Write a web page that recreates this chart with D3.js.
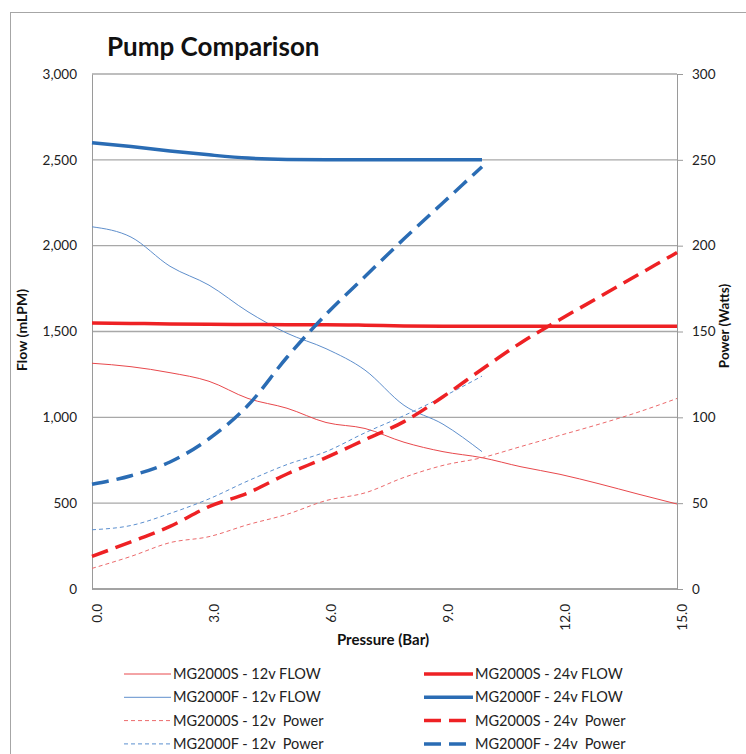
<!DOCTYPE html>
<html>
<head>
<meta charset="utf-8">
<script src="https://cdn.jsdelivr.net/npm/d3@7"></script>
<style>
  body { margin: 0; background: #fff; }
  svg { font-family: Lato, "Open Sans", sans-serif; }
  text { white-space: pre; }
</style>
</head>
<body>
<svg id="chart" width="746" height="754"></svg>
<script>
// pressure steps (bar)
var pressure = [0, 1, 2, 3, 4, 5, 6, 7, 8, 9, 10, 11, 12, 13, 14, 15];

// flow, mLPM (left axis)
var s12Flow = [1315, 1295, 1260, 1210, 1110, 1053, 970, 935, 855, 800, 765, 712, 668, 613, 553, 495];
var f12Flow = [2110, 2050, 1880, 1770, 1615, 1490, 1400, 1275, 1070, 960, 800];
var s24Flow = [1550, 1547, 1544, 1542, 1541, 1540, 1540, 1537, 1532, 1530, 1530, 1530, 1530, 1530, 1530, 1530];
var f24Flow = [2600, 2577, 2552, 2529, 2510, 2502, 2500, 2500, 2500, 2500, 2500];

// power, watts (right axis)
var s12Pow = [12, 19, 27, 30.5, 37.5, 43.5, 51.5, 56, 65, 72, 76.5, 83, 89.5, 96, 103, 111];
var f12Pow = [34.5, 37, 44, 52.5, 63, 72.5, 80, 91, 101, 112, 124];
var s24Pow = [19, 27.5, 36.5, 48, 56, 67, 76.5, 87, 97.5, 112, 128, 143.5, 157, 170, 183, 196];
var f24Pow = [61, 66, 74, 87.5, 107, 135, 160, 182, 204, 225, 246];

var flowTicks = [0, 500, 1000, 1500, 2000, 2500, 3000];
var powTicks = [0, 50, 100, 150, 200, 250, 300];
var xTicks = [0, 3, 6, 9, 12, 15];

var red = "#ee2124", blue = "#2a6cb4";
var series = [
  {name: "MG2000S - 12v FLOW", vals: s12Flow, axis: "flow", color: "#e8484c", w: 1, dash: null},
  {name: "MG2000F - 12v FLOW", vals: f12Flow, axis: "flow", color: "#5f8fcc", w: 1, dash: null},
  {name: "MG2000S - 12v  Power", vals: s12Pow, axis: "pow", color: "#ec6a6c", w: 1, dash: "4,3"},
  {name: "MG2000F - 12v  Power", vals: f12Pow, axis: "pow", color: "#5b8fcf", w: 1, dash: "4,3"},
  {name: "MG2000S - 24v FLOW", vals: s24Flow, axis: "flow", color: red, w: 3.5, dash: null},
  {name: "MG2000F - 24v FLOW", vals: f24Flow, axis: "flow", color: blue, w: 3.5, dash: null},
  {name: "MG2000S - 24v  Power", vals: s24Pow, axis: "pow", color: red, w: 3.5, dash: "17,8"},
  {name: "MG2000F - 24v  Power", vals: f24Pow, axis: "pow", color: blue, w: 3.5, dash: "17,8"}
];

var svg = d3.select("#chart");
var plotL = 92, plotR = 677, plotT = 74, plotB = 589;

var x = d3.scaleLinear().domain([0, 15]).range([plotL, plotR]);
var yFlow = d3.scaleLinear().domain([0, 3000]).range([plotB, plotT]);
var yPow = d3.scaleLinear().domain([0, 300]).range([plotB, plotT]);

// chart border
svg.append("rect").attr("x", 10.5).attr("y", 12.5).attr("width", 760).attr("height", 760)
  .attr("fill", "none").attr("stroke", "#a6a6a6").attr("stroke-width", 1);

svg.append("text").attr("x", 107).attr("y", 56)
  .attr("font-size", 26).attr("font-weight", "bold").attr("fill", "#111")
  .text("Pump Comparison");

// gridlines
svg.append("g").selectAll("line").data(flowTicks).join("line")
  .attr("x1", plotL).attr("x2", plotR)
  .attr("y1", function(d){ return yFlow(d); }).attr("y2", function(d){ return yFlow(d); })
  .attr("stroke", "#a8a8a8").attr("stroke-width", 1.3);

// left axis
var yAxisL = d3.axisLeft(yFlow).tickValues(flowTicks).tickSize(0).tickPadding(15)
  .tickFormat(d3.format(","));
var gL = svg.append("g").attr("transform", "translate(" + plotL + ",0)").call(yAxisL);
gL.select(".domain").attr("stroke", "#9a9a9a");

// right axis
var yAxisR = d3.axisRight(yPow).tickValues(powTicks).tickSize(6).tickPadding(9);
var gR = svg.append("g").attr("transform", "translate(" + plotR + ",0)").call(yAxisR);
gR.select(".domain").attr("stroke", "#9a9a9a");
gR.selectAll(".tick line").attr("stroke", "#9a9a9a");

[gL, gR].forEach(function(g){
  g.selectAll(".tick text").attr("font-size", 13.5).attr("fill", "#222")
    .attr("font-family", "Lato, sans-serif");
});

// bottom axis, rotated labels
var gB = svg.append("g");
gB.append("line").attr("x1", plotL).attr("x2", plotR).attr("y1", plotB).attr("y2", plotB)
  .attr("stroke", "#9a9a9a").attr("stroke-width", 1.3);
gB.selectAll("text").data(xTicks).join("text")
  .attr("transform", function(d){ return "translate(" + (x(d) + 5) + "," + (plotB + 15) + ") rotate(-90)"; })
  .attr("text-anchor", "end").attr("dy", "0.35em")
  .attr("font-size", 13.5).attr("fill", "#222")
  .text(function(d){ return d3.format(".1f")(d); });

// axis titles
svg.append("text").attr("x", 383).attr("y", 645).attr("text-anchor", "middle")
  .attr("font-size", 15).attr("font-weight", "bold").attr("fill", "#111").text("Pressure (Bar)");
svg.append("text").attr("transform", "translate(27,330) rotate(-90)").attr("text-anchor", "middle")
  .attr("font-size", 14).attr("font-weight", "bold").attr("fill", "#111").text("Flow (mLPM)");
svg.append("text").attr("transform", "translate(729,326) rotate(-90)").attr("text-anchor", "middle")
  .attr("font-size", 13.5).attr("font-weight", "bold").attr("fill", "#111").text("Power (Watts)");

// series lines
var plot = svg.append("g");
series.forEach(function(s){
  var yS = s.axis == "flow" ? yFlow : yPow;
  var line = d3.line()
    .x(function(d, i){ return x(pressure[i]); })
    .y(function(d){ return yS(d); })
    .curve(d3.curveMonotoneX);
  plot.append("path").datum(s.vals)
    .attr("d", line)
    .attr("fill", "none")
    .attr("stroke", s.color)
    .attr("stroke-width", s.w)
    .attr("stroke-dasharray", s.dash)
    .attr("stroke-linejoin", "round");
});

// legend, two columns of four
var leg = svg.append("g");
series.forEach(function(s, i){
  var col = Math.floor(i / 4), row = i % 4;
  var lx = col == 0 ? 124 : 424, ly = 674 + row * 23.3;
  var len = col == 0 ? 47 : 49;
  leg.append("line").attr("x1", lx).attr("x2", lx + len).attr("y1", ly).attr("y2", ly)
    .attr("stroke", s.color).attr("stroke-width", s.w).attr("stroke-dasharray", s.dash);
  leg.append("text").attr("x", lx + len + 2).attr("y", ly).attr("dy", "0.35em")
    .attr("font-size", 14.5).attr("fill", "#222").text(s.name);
});
</script>
</body>
</html>
